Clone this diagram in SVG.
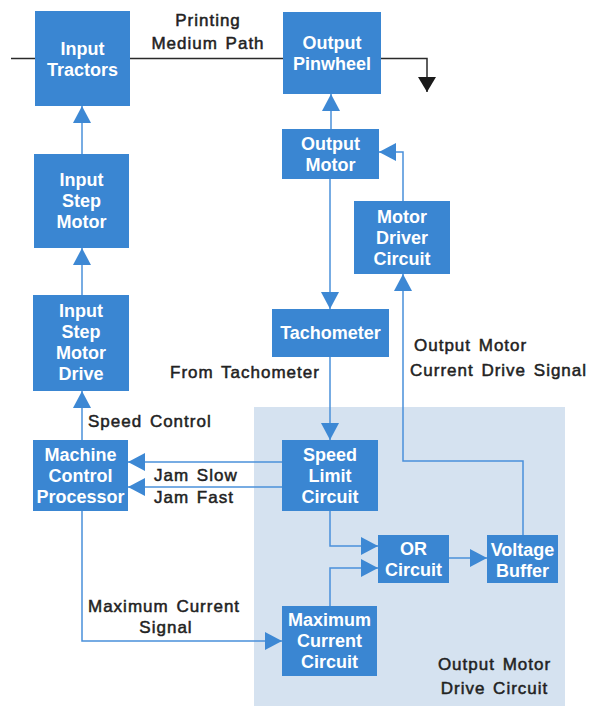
<svg xmlns="http://www.w3.org/2000/svg" width="602" height="706" viewBox="0 0 602 706">
<defs>
<marker id="ab" markerUnits="userSpaceOnUse" markerWidth="18" markerHeight="18" refX="17" refY="9" orient="auto"><path d="M0,0 L17,9 L0,18 z" fill="#3d88d4"/></marker>
<marker id="ak" markerUnits="userSpaceOnUse" markerWidth="18" markerHeight="18" refX="15" refY="9" orient="auto"><path d="M0,0 L15,9 L0,18 z" fill="#1a1a1a"/></marker>
<style>
.box{fill:#3a86d2}
.bt{font-family:"Liberation Sans",Arial,sans-serif;font-weight:bold;font-size:18px;fill:#fff;text-anchor:middle}
.lb{font-family:"Liberation Sans",Arial,sans-serif;font-size:17px;fill:#222;stroke:#222;stroke-width:0.5;letter-spacing:1px;word-spacing:2px}
.ln{fill:none;stroke:#4a90da;stroke-width:1.5}
.pk{fill:none;stroke:#2a2a2a;stroke-width:1.5}
</style>
</defs>
<rect width="602" height="706" fill="#ffffff"/>
<rect id="shade" x="254" y="407" width="311" height="299" fill="#d5e2f0"/>

<g id="connectors">
<path class="pk" d="M11,58.5 H35"/>
<path class="pk" d="M130,58.5 H283"/>
<path class="pk" d="M381,58.5 H427 V92" marker-end="url(#ak)"/>
<path class="ln" d="M82,154 V106" marker-end="url(#ab)"/>
<path class="ln" d="M82,295 V248" marker-end="url(#ab)"/>
<path class="ln" d="M82,440 V391" marker-end="url(#ab)"/>
<path class="ln" d="M331,129 V94" marker-end="url(#ab)"/>
<path class="ln" d="M403,201 V152 H379" marker-end="url(#ab)"/>
<path class="ln" d="M330,179 V309" marker-end="url(#ab)"/>
<path class="ln" d="M330,357 V440" marker-end="url(#ab)"/>
<path class="ln" d="M523,535 V461 H403 V274" marker-end="url(#ab)"/>
<path class="ln" d="M282,462 H128" marker-end="url(#ab)"/>
<path class="ln" d="M282,487 H128" marker-end="url(#ab)"/>
<path class="ln" d="M330,511 V546 H378" marker-end="url(#ab)"/>
<path class="ln" d="M330,606 V568 H378" marker-end="url(#ab)"/>
<path class="ln" d="M449,558 H487" marker-end="url(#ab)"/>
<path class="ln" d="M82,511 V641 H282" marker-end="url(#ab)"/>
</g>

<g id="input-tractors"><rect class="box" x="35" y="11" width="95" height="95"/><text class="bt" x="82.5" y="55">Input</text><text class="bt" x="82.5" y="76">Tractors</text></g>
<g id="output-pinwheel"><rect class="box" x="283" y="12" width="98" height="82"/><text class="bt" x="332" y="49">Output</text><text class="bt" x="332" y="70">Pinwheel</text></g>
<g id="output-motor"><rect class="box" x="282" y="129" width="97" height="50"/><text class="bt" x="330.5" y="150">Output</text><text class="bt" x="330.5" y="171">Motor</text></g>
<g id="motor-driver"><rect class="box" x="354" y="201" width="96" height="73"/><text class="bt" x="402" y="223">Motor</text><text class="bt" x="402" y="244">Driver</text><text class="bt" x="402" y="265">Circuit</text></g>
<g id="tachometer"><rect class="box" x="272" y="309" width="117" height="48"/><text class="bt" x="330.5" y="339">Tachometer</text></g>
<g id="input-step-motor"><rect class="box" x="34" y="154" width="95" height="94"/><text class="bt" x="81.5" y="186">Input</text><text class="bt" x="81.5" y="207">Step</text><text class="bt" x="81.5" y="228">Motor</text></g>
<g id="input-step-motor-drive"><rect class="box" x="33" y="295" width="96" height="96"/><text class="bt" x="81" y="317">Input</text><text class="bt" x="81" y="338">Step</text><text class="bt" x="81" y="359">Motor</text><text class="bt" x="81" y="380">Drive</text></g>
<g id="machine-control"><rect class="box" x="33" y="440" width="95" height="71"/><text class="bt" x="80.5" y="461">Machine</text><text class="bt" x="80.5" y="482">Control</text><text class="bt" x="80.5" y="503">Processor</text></g>
<g id="speed-limit"><rect class="box" x="282" y="440" width="96" height="71"/><text class="bt" x="330" y="461">Speed</text><text class="bt" x="330" y="482">Limit</text><text class="bt" x="330" y="503">Circuit</text></g>
<g id="or-circuit"><rect class="box" x="378" y="535" width="71" height="48"/><text class="bt" x="413.5" y="555">OR</text><text class="bt" x="413.5" y="576">Circuit</text></g>
<g id="voltage-buffer"><rect class="box" x="487" y="535" width="71" height="48"/><text class="bt" x="522.5" y="556">Voltage</text><text class="bt" x="522.5" y="577">Buffer</text></g>
<g id="max-current"><rect class="box" x="282" y="606" width="95" height="70"/><text class="bt" x="329.5" y="626">Maximum</text><text class="bt" x="329.5" y="647">Current</text><text class="bt" x="329.5" y="668">Circuit</text></g>

<g id="labels">
<text class="lb" x="208" y="26" text-anchor="middle">Printing</text>
<text class="lb" x="208" y="49" text-anchor="middle">Medium Path</text>
<text class="lb" x="414" y="351">Output Motor</text>
<text class="lb" x="410" y="376">Current Drive Signal</text>
<text class="lb" x="170" y="378">From Tachometer</text>
<text class="lb" x="88" y="427">Speed Control</text>
<text class="lb" x="154" y="481">Jam Slow</text>
<text class="lb" x="154" y="503">Jam Fast</text>
<text class="lb" x="88" y="612">Maximum Current</text>
<text class="lb" x="166" y="633" text-anchor="middle">Signal</text>
<text class="lb" x="494.5" y="670" text-anchor="middle">Output Motor</text>
<text class="lb" x="494.5" y="694" text-anchor="middle">Drive Circuit</text>
</g>
</svg>
